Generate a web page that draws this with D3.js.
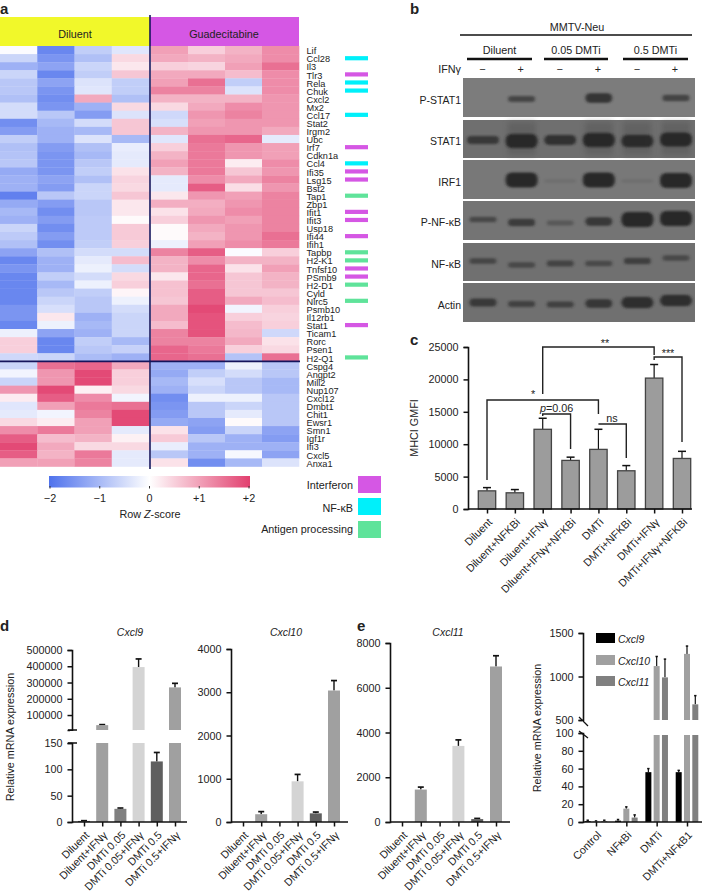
<!DOCTYPE html>
<html><head><meta charset="utf-8">
<script src="https://cdn.jsdelivr.net/npm/d3@7"></script>
<style>
html,body{margin:0;padding:0;background:#fff}
svg{display:block}
text{font-family:"Liberation Sans",Arial,sans-serif;fill:#222}
.axis path,.axis line{stroke:#111}
</style></head><body>
<svg id="c" width="702" height="892"></svg>
<script>
// ---------- DATA ----------
const genes=["Lif","Ccl28","Il3","Tlr3","Rela","Chuk","Cxcl2","Mx2","Ccl17","Stat2","Irgm2","Ubc","Irf7","Cdkn1a","Ccl4","Ifi35","Lsg15","Bst2","Tap1","Zbp1","Ifit1","Ifit3","Usp18","Ifi44","Ifih1","Tapbp","H2-K1","Tnfsf10","PSmb9","H2-D1","Cyld","Nlrc5","Psmb10","Il12rb1","Stat1","Ticam1","Rorc","Psen1","H2-Q1","Cspg4","Angpt2","Mill2","Nup107","Cxcl12","Dmbt1","Chit1","Ewsr1","Smn1","Igf1r","Ifi3","Cxcl5","Anxa1"];
const zScores=[
[-.05,-1.7,-.7,-.35,1,.5,.8,1.2],[-.6,-1.5,-.9,.4,.9,.8,.9,1.2],[-1.1,-1.3,-.6,.25,.5,.45,1,1.5],[-.6,-1.7,-.7,.6,.9,.9,.7,1.2],
[-.8,-1.3,-.4,-.7,1,1.5,-.7,1.2],[-.8,-1.5,-.35,-.7,1.3,1.3,-.4,1.2],[-.9,-1.6,.9,-.9,.8,.8,.8,1.1],[-.5,-1.5,-1.1,.4,.4,.9,1.2,1.1],
[-.5,-.8,-1.4,-.4,-.55,1.1,1.3,1.1],[-1.6,-1,-.5,.6,-.45,1,1.1,1.1],[-1.4,-1.1,-1,.6,.8,1.1,1.1,.9],[-.7,-1.1,-.4,-1,-.35,1.5,1.6,-.3],
[-.9,-1.4,-.9,-.25,.5,1.4,1.1,1],[-.85,-1.5,-1,-.3,.8,1.4,1.1,1],[-.8,-1.5,-.8,-.3,1,1.4,.2,1.2],[-1.2,-1.5,-.7,.3,.8,1.4,.6,1.1],
[-1.1,-1.3,-.9,.45,-.3,1.2,.9,1.3],[-1.1,-1.4,-.6,.4,-.3,1.7,.35,1.1],[-1.8,-.8,-.6,.6,.25,1.1,1,1.3],[-1.2,-1.4,-.8,.25,.85,.85,1.1,1.3],
[-1,-1.6,-.8,.25,.3,.9,1.2,1.3],[-1.1,-1.4,-.75,.05,.5,1.1,1,1.3],[-.6,-1.6,-.75,.55,.05,.9,1.1,1.3],[-.75,-1.4,-.75,.55,.05,.8,1.1,1.5],
[-.9,-1.6,-.7,.5,-.2,1,1.2,1.4],[-1.3,-.9,-.5,-.5,1.3,1.7,-.05,.5],[-1.7,-1.1,-.3,.7,.8,1.2,.8,.8],[-1.5,-1.1,-.2,-.5,.8,1.6,.3,1],
[-1.7,-.7,-.5,.4,.25,1.6,.6,.8],[-1.7,-1,-.2,.5,.65,1.5,.6,.8],[-1.7,-.8,-.7,.1,.65,1.7,.6,.6],[-1.7,-.6,-.8,-.2,.6,1.7,.9,.7],
[-1.5,-.45,-.8,-.5,.9,1.9,-.15,.5],[-1.5,.25,-1.1,-.6,.9,1.8,.5,.45],[-1.7,-.2,-1,-.6,.7,1.8,.7,.5],[-.2,-1.3,-1.1,-.6,1.3,1.8,.75,-.55],
[.5,-1.7,-.7,-1,1.3,1.3,.9,.3],[.5,-1.7,-.8,-.65,1.6,1.4,.5,.4],[-.55,-.6,-.95,-1.1,1.6,1.5,-.85,1.5],[-.6,1.5,1.6,.9,-1.1,-1.1,-.2,-.8],
[-.15,1.1,1.9,.5,-1.2,-.7,-.5,-.8],[-.6,1.1,1.9,.5,-1,-.45,-.8,-1],[1.1,1.9,.15,.4,-1.1,-.6,-.8,-1],[.2,1.7,1.2,-.15,-1.6,-.2,-.2,-.8],
[-.35,1,1.4,1.5,-1.5,-.8,-.6,-.8],[-.3,-.15,1.3,1.9,-1.4,-.8,-.3,-.8],[.4,.2,1,1.9,-1.2,-1.3,.05,-.8],[1.2,1.4,1,-.3,.3,-1.4,-.6,-1.3],
[1.7,.7,.8,.15,.55,-.8,-1.1,-1.4],[1.9,.9,.4,.4,-.25,-1.1,-1.1,-1.1],[1.7,.8,1.4,-.3,-.8,-1.1,-.1,-1.3],[1,1,1.3,-.3,.3,-1.6,-1,-.4]];
const interferonGenes=["Tlr3","Irf7","Ifi35","Lsg15","Ifit1","Ifit3","Ifi44","Tnfsf10","PSmb9","Stat1"];
const nfkbGenes=["Ccl28","Rela","Chuk","Ccl17","Ccl4"];
const antigenGenes=["Tap1","Tapbp","H2-K1","H2-D1","Nlrc5","H2-Q1"];
const setNames=["Interferon","NF-κB","Antigen processing"];
const zTicks=[-2,-1,0,1,2];

const blotNames=["P-STAT1","STAT1","IRF1","P-NF-κB","NF-κB","Actin"];
const bandStrengthPSTAT1=[0,.5,0,.68,0,.52];
const bandStrengthSTAT1=[.6,.95,.7,.95,.85,.95];
const bandStrengthIRF1=[0,1,.1,1,.1,1];
const bandStrengthPNFKB=[.45,.58,.3,.62,1,1];
const bandStrengthNFKB=[.45,.42,.48,.42,.52,.42];
const bandStrengthActin=[.6,.5,.5,.62,.8,.8];
const blotGroups=["Diluent","0.05 DMTi","0.5 DMTi"];

const cLabels=["Diluent","Diluent+NFKBi","Diluent+IFNγ","Diluent+IFNγ+NFKBi","DMTi","DMTi+NFKBi","DMTi+IFNγ","DMTi+IFNγ+NFKBi"];
const cValues=[2800,2500,12300,7500,9200,5900,20200,7800];
const cErrors=[3300,3000,14000,8000,12300,6700,22300,8900];
const cTicks=[0,5000,10000,15000,20000,25000];

const dLabels=["Diluent","Diluent+IFNγ","DMTi 0.05","DMTi 0.05+IFNγ","DMTi 0.5","DMTi 0.5+IFNγ"];
const cxcl9Values=[2,38000,25,395000,115,270000];
const cxcl9Errors=[2.5,41000,26.5,445000,132,295000];
const cxcl10Values=[0,180,0,940,200,3040];
const cxcl10Errors=[0,240,0,1100,230,3270];
const cxcl11Values=[0,1450,0,3400,130,6950];
const cxcl11Errors=[0,1560,0,3670,160,7430];
const treatColors=["#555","#a0a0a0","#808080","#d4d4d4","#5f5f5f","#a0a0a0"];

const fLabels=["Control","NFκBi","DMTi","DMTi+NFκB1"];
const fSeries=["Cxcl9","Cxcl10","Cxcl11"];
const fCxcl9=[1,1.5,56,56], fCxcl9Err=[2,2.8,60,58];
const fCxcl10=[.5,15,1120,1260], fCxcl10Err=[1.2,17,1230,1350];
const fCxcl11=[1,5,990,680], fCxcl11Err=[2,8,1200,780];
const fColors=["#000","#a0a0a0","#808080"];

// ---------- HELPERS ----------
const FS=10.8;
const svg=d3.select("#c");
const defs=svg.append("defs");
const txt=(x,y,s,o={})=>{const t=svg.append("text").attr("x",x).attr("y",y).attr("font-size",o.size||FS)
  .attr("text-anchor",o.anchor||"start").attr("dominant-baseline","central").text(s);
  if(o.italic)t.attr("font-style","italic"); if(o.bold)t.attr("font-weight","bold");
  if(o.rotate!=null)t.attr("transform",`rotate(${o.rotate} ${x} ${y})`); return t;};
const line=(x1,y1,x2,y2,w=1,c="#111")=>svg.append("line").attr("x1",x1).attr("y1",y1).attr("x2",x2).attr("y2",y2).attr("stroke",c).attr("stroke-width",w);
const path=(pts,w=1.4,c="#222")=>svg.append("path").attr("d",d3.line()(pts)).attr("fill","none").attr("stroke",c).attr("stroke-width",w);

[["a",0,8],["b",410,8],["c",410,339],["d",0,625],["e",357,625]].forEach(d=>txt(d[1],d[2],d[0],{size:15,bold:true}));

// ---------- a: HEATMAP ----------
const zColor=d3.scaleLinear().domain([-2,0,2]).range(["#4f72ec","#ffffff","#e2406f"]);
const colX=d3.scaleBand().domain(d3.range(4)).range([0,149]);
const colX2=d3.scaleBand().domain(d3.range(4)).range([151,299]);
const rowY=d3.scaleBand().domain(genes).range([46,466.5]);
svg.append("rect").attr("x",0).attr("y",17).attr("width",150).attr("height",29).attr("fill","#f1f82a");
svg.append("rect").attr("x",150).attr("y",17).attr("width",149).attr("height",29).attr("fill","#d557e4");
txt(75,33.5,"Diluent",{anchor:"middle"});
txt(224,33.5,"Guadecitabine",{anchor:"middle"});
genes.forEach((g,i)=>{
  zScores[i].forEach((v,j)=>{
    const sc=j<4?colX:colX2, k=j<4?j:j-4;
    svg.append("rect").attr("x",sc(k)).attr("y",rowY(g)).attr("width",sc.bandwidth()+.3).attr("height",rowY.bandwidth()+.3).attr("fill",zColor(v));
  });
  txt(306.5,rowY(g)+rowY.bandwidth()/2+1.2,g,{size:9.2});
});
const setColors=["#d557e4","#00f0fa","#5fe39a"];
[interferonGenes,nfkbGenes,antigenGenes].forEach((s,i)=>s.forEach(g=>{
  svg.append("rect").attr("x",345).attr("y",rowY(g)+rowY.bandwidth()/2-2).attr("width",23).attr("height",4.2).attr("fill",setColors[i]);
}));
line(150,15,150,469,1.6,"#15155c");
line(0,rowY("Cspg4"),300,rowY("Cspg4"),1.6,"#15155c");
// colour bar
const grad=defs.append("linearGradient").attr("id","zg");
d3.range(-2,2.01,.5).forEach(v=>grad.append("stop").attr("offset",(v+2)/4).attr("stop-color",zColor(v)));
const zScale=d3.scaleLinear().domain([-2,2]).range([50,249]);
svg.append("rect").attr("x",49).attr("y",476).attr("width",201).attr("height",11.5).attr("fill","url(#zg)");
zTicks.forEach(t=>{line(zScale(t),486,zScale(t),488.5,1,"#333");
  txt(zScale(t),498,t===0?"0":(t<0?"−"+(-t):"+"+t),{anchor:"middle"});});
const rz=txt(150,514,"",{anchor:"middle"});
rz.append("tspan").text("Row ");rz.append("tspan").attr("font-style","italic").text("Z");rz.append("tspan").text("-score");
setNames.forEach((n,i)=>{const y=[485,508,529][i];
  txt(353,y,n,{anchor:"end"});
  svg.append("rect").attr("x",358).attr("y",[476,498,521][i]).attr("width",23).attr("height",17).attr("fill",setColors[i]);});

// ---------- b: WESTERN BLOTS ----------
const lane=d3.scalePoint().domain(d3.range(6)).range([483,676]);
const blur=defs.append("filter").attr("id","bl").attr("x","-30%").attr("y","-80%").attr("width","160%").attr("height","260%");
blur.append("feGaussianBlur").attr("stdDeviation","1.4 1.2");
const haze=defs.append("filter").attr("id","hz").attr("x","-30%").attr("y","-80%").attr("width","160%").attr("height","260%");
haze.append("feGaussianBlur").attr("stdDeviation","2.5 3");
const panelTop=[78,120,160,201,243,283], panelH=[39,38,39,39,38,39];
const panelBg=["#7c7c7c","#6f6f6f","#787878","#747474","#707070","#707070"];
const bandOffsets=[[0,.5,0,-.5,0,-.5],[0,1,0,0,1,-.5],[0,-.5,.5,-.5,.5,0],[-2,1,1.5,0,-2,-3],[-2,2,.5,.5,-2,-5],[-1,0.5,1,0,-1,-3]];
const bandThick=d3.scaleLinear().domain([0,.5,.7,1]).range([3,6,10,15]);
const bandDark=d3.scaleLinear().domain([0,.15,.5,.7,1]).range([0,.15,.6,.8,.92]);
[bandStrengthPSTAT1,bandStrengthSTAT1,bandStrengthIRF1,bandStrengthPNFKB,bandStrengthNFKB,bandStrengthActin].forEach((row,p)=>{
  svg.append("rect").attr("x",463).attr("y",panelTop[p]).attr("width",232).attr("height",panelH[p]).attr("fill",panelBg[p]);
  const cy=panelTop[p]+panelH[p]/2+1;
  row.forEach((v,i)=>{ if(!v)return;
    const h=bandThick(v), x=lane(i), w=p===1||p===2||v>.75?32:27;
    if(p===1&&(i%2===1||i===4)){
      svg.append("rect").attr("x",x-14).attr("y",panelTop[p]+2).attr("width",28).attr("height",panelH[p]-5).attr("fill","#555").attr("opacity",.5).attr("filter","url(#hz)");
    }
    svg.append("rect").attr("x",x-w/2).attr("y",cy+bandOffsets[p][i]-h/2).attr("width",w).attr("height",h)
      .attr("rx",Math.min(6,h/2)).attr("fill","#242424").attr("opacity",bandDark(v)).attr("filter","url(#bl)");
  });
});
txt(577,27,"MMTV-Neu",{anchor:"middle"});
line(460,35,692,35,1.5,"#111");
blotGroups.forEach((g,i)=>{const a=[467,544,623][i],b=[532,608,688][i];
  txt((a+b)/2,49.5,g,{anchor:"middle"});line(a,59,b,59,2.6,"#111");});
txt(461,69,"IFNγ",{anchor:"end"});
d3.range(6).forEach(i=>txt(lane(i)+(i%2?-1:-.5),69,i%2?"+":"−",{anchor:"middle"}));
blotNames.forEach((n,i)=>txt(461,[100,141,182,222,264,305][i],n,{anchor:"end",size:10.5}));

// ---------- bar helpers ----------
function xAxisG(x0,y0,scale,labels,x1){
  const g=svg.append("g").attr("class","axis").attr("transform",`translate(0,${y0})`)
    .call(d3.axisBottom(scale).tickSize(4.5).tickFormat(""));
  g.select(".domain").remove();g.selectAll("line").attr("stroke-width",1.5);
  line(x0,y0,x1,y0,1.6);
  labels.forEach((l,i)=>{const x=scale(i)+3,y=y0+11;
    txt(x,y,l,{anchor:"end",rotate:-45});});
}
function yAxisG(x,scale,ticks){
  const g=svg.append("g").attr("class","axis").attr("transform",`translate(${x},0)`)
    .call(d3.axisLeft(scale).tickValues(ticks).tickSize(4.5).tickFormat(""));
  g.selectAll("line").attr("stroke-width",1.5);g.select(".domain").attr("stroke-width",1.6);
  ticks.forEach(t=>txt(x-9.5,scale(t),String(t),{anchor:"end"}));
}
function errBar(x,y1,y2,capW,w=1.4){line(x,y1,x,y2,w,"#111");line(x-capW,y2,x+capW,y2,w+.3,"#111");}

// ---------- c ----------
{const x=d3.scalePoint().domain(d3.range(8)).range([487,682]);
 const y=d3.scaleLinear().domain([0,25000]).range([509,347]);
 yAxisG(468,y,cTicks);
 cValues.forEach((v,i)=>{
   errBar(x(i),y(v),y(cErrors[i]),4,1.2);
   svg.append("rect").attr("x",x(i)-8.7).attr("y",y(v)).attr("width",17.4).attr("height",509-y(v)).attr("fill","#9c9c9c").attr("stroke","#444").attr("stroke-width",1.3);
 });
 xAxisG(468,509,x,cLabels,692);
 txt(414,428,"MHCI GMFI",{anchor:"middle",rotate:-90});
 path([[x(0),480],[x(0),400],[x(4),400],[x(4),414]]);
 path([[x(2),394],[x(2),347],[x(6),347],[x(6),355]]);
 path([[x(2),416],[x(2),414],[x(3),414],[x(3),449]]);
 path([[x(4),424],[x(5),424],[x(5),458]]);
 path([[x(6),360],[x(6),357],[x(7),357],[x(7),442]]);
 txt(533,394,"*",{anchor:"middle"});
 txt(605,343,"**",{anchor:"middle"});
 txt(668,353,"***",{anchor:"middle"});
 const pt=txt(540,408,"");pt.append("tspan").attr("font-style","italic").text("p");pt.append("tspan").text("=0.06");
 txt(612,418,"ns",{anchor:"middle"});
}

// ---------- d/e ----------
function simplePanel(xs,ax,yTop,maxV,ticks,vals,errs,title,titleX,xEnd){
  const x=d3.scalePoint().domain(d3.range(6)).range(xs);
  const y=d3.scaleLinear().domain([0,maxV]).range([822,yTop]);
  yAxisG(ax,y,ticks);
  vals.forEach((v,i)=>{ if(!v)return;
    errBar(x(i),y(v),y(errs[i]),3,1.4);
    svg.append("rect").attr("x",x(i)-6).attr("y",y(v)).attr("width",12).attr("height",822-y(v)).attr("fill",treatColors[i]);
  });
  xAxisG(ax,822,x,dLabels,xEnd);
  txt(titleX,632,title,{anchor:"middle",size:10.5,italic:true});
}
{// Cxcl9 broken axis
 const x=d3.scalePoint().domain(d3.range(6)).range([84,175]);
 const lo=d3.scaleLinear().domain([0,150]).range([822,743]);
 const hi=d3.scaleLinear().domain([8000,500000]).range([730,650]);
 const hiTicks=[100000,200000,300000,400000,500000];
 yAxisG(72,hi,hiTicks); yAxisG(72,lo,[0,50,100,150]);
 line(68,730,77,730,1.5);line(68,743,77,743,1.5);
 svg.append("rect").attr("x",70).attr("y",731).attr("width",4).attr("height",11).attr("fill","#fff");
 cxcl9Values.forEach((v,i)=>{
   if(v>150){
     errBar(x(i),hi(v),hi(cxcl9Errors[i]),3,1.4);
     svg.append("rect").attr("x",x(i)-6).attr("y",hi(v)).attr("width",12).attr("height",730-hi(v)).attr("fill",treatColors[i]);
     svg.append("rect").attr("x",x(i)-6).attr("y",743).attr("width",12).attr("height",79).attr("fill",treatColors[i]);
   } else {
     errBar(x(i),lo(v),lo(cxcl9Errors[i]),3,1.4);
     svg.append("rect").attr("x",x(i)-6).attr("y",lo(v)).attr("width",12).attr("height",822-lo(v)).attr("fill",treatColors[i]);
   }
 });
 xAxisG(72,822,x,dLabels,187);
 txt(130,632,"Cxcl9",{anchor:"middle",size:10.5,italic:true});
 txt(10,737,"Relative mRNA expression",{anchor:"middle",rotate:-90});
}
simplePanel([243,334],231,649,4000,[0,1000,2000,3000,4000],cxcl10Values,cxcl10Errors,"Cxcl10",286,348);
simplePanel([402,496],390,643,8000,[0,2000,4000,6000,8000],cxcl11Values,cxcl11Errors,"Cxcl11",448,510);

// ---------- last panel ----------
{const x=d3.scalePoint().domain(d3.range(4)).range([596,687]);
 const sub=d3.scalePoint().domain(d3.range(3)).range([-8.3,8.3]);
 const lo=d3.scaleLinear().domain([0,100]).range([822,733]);
 const hi=d3.scaleLinear().domain([500,1500]).range([720,633]);
 yAxisG(583,hi,[500,1000,1500]); yAxisG(583,lo,[0,20,40,60,80,100]);
 svg.append("rect").attr("x",582).attr("y",721).attr("width",3).attr("height",11).attr("fill","#fff");
 path([[579,717],[588,726]],1.3,"#111");path([[579,731],[588,738]],1.3,"#111");
 [[fCxcl9,fCxcl9Err],[fCxcl10,fCxcl10Err],[fCxcl11,fCxcl11Err]].forEach((s,k)=>{
   s[0].forEach((v,i)=>{const cx=x(i)+sub(k);
     if(v>100){
       errBar(cx,hi(v),hi(s[1][i]),1.2,1.2);
       svg.append("rect").attr("x",cx-3).attr("y",hi(v)).attr("width",6).attr("height",720-hi(v)).attr("fill",fColors[k]);
       svg.append("rect").attr("x",cx-3).attr("y",735).attr("width",6).attr("height",87).attr("fill",fColors[k]);
     } else {
       errBar(cx,lo(v),lo(s[1][i]),1.2,1.2);
       svg.append("rect").attr("x",cx-3).attr("y",lo(v)).attr("width",6).attr("height",822-lo(v)).attr("fill",fColors[k]);
     }
   });
 });
 xAxisG(583,822,x,fLabels,702);
 txt(537,728,"Relative mRNA expression",{anchor:"middle",rotate:-90});
 fSeries.forEach((n,i)=>{const y=[633,655,676][i];
   svg.append("rect").attr("x",596).attr("y",y).attr("width",19).attr("height",10).attr("fill",fColors[i]);
   txt(618,y+5.5,n,{size:10.5,italic:true});});
}
</script></body></html>
